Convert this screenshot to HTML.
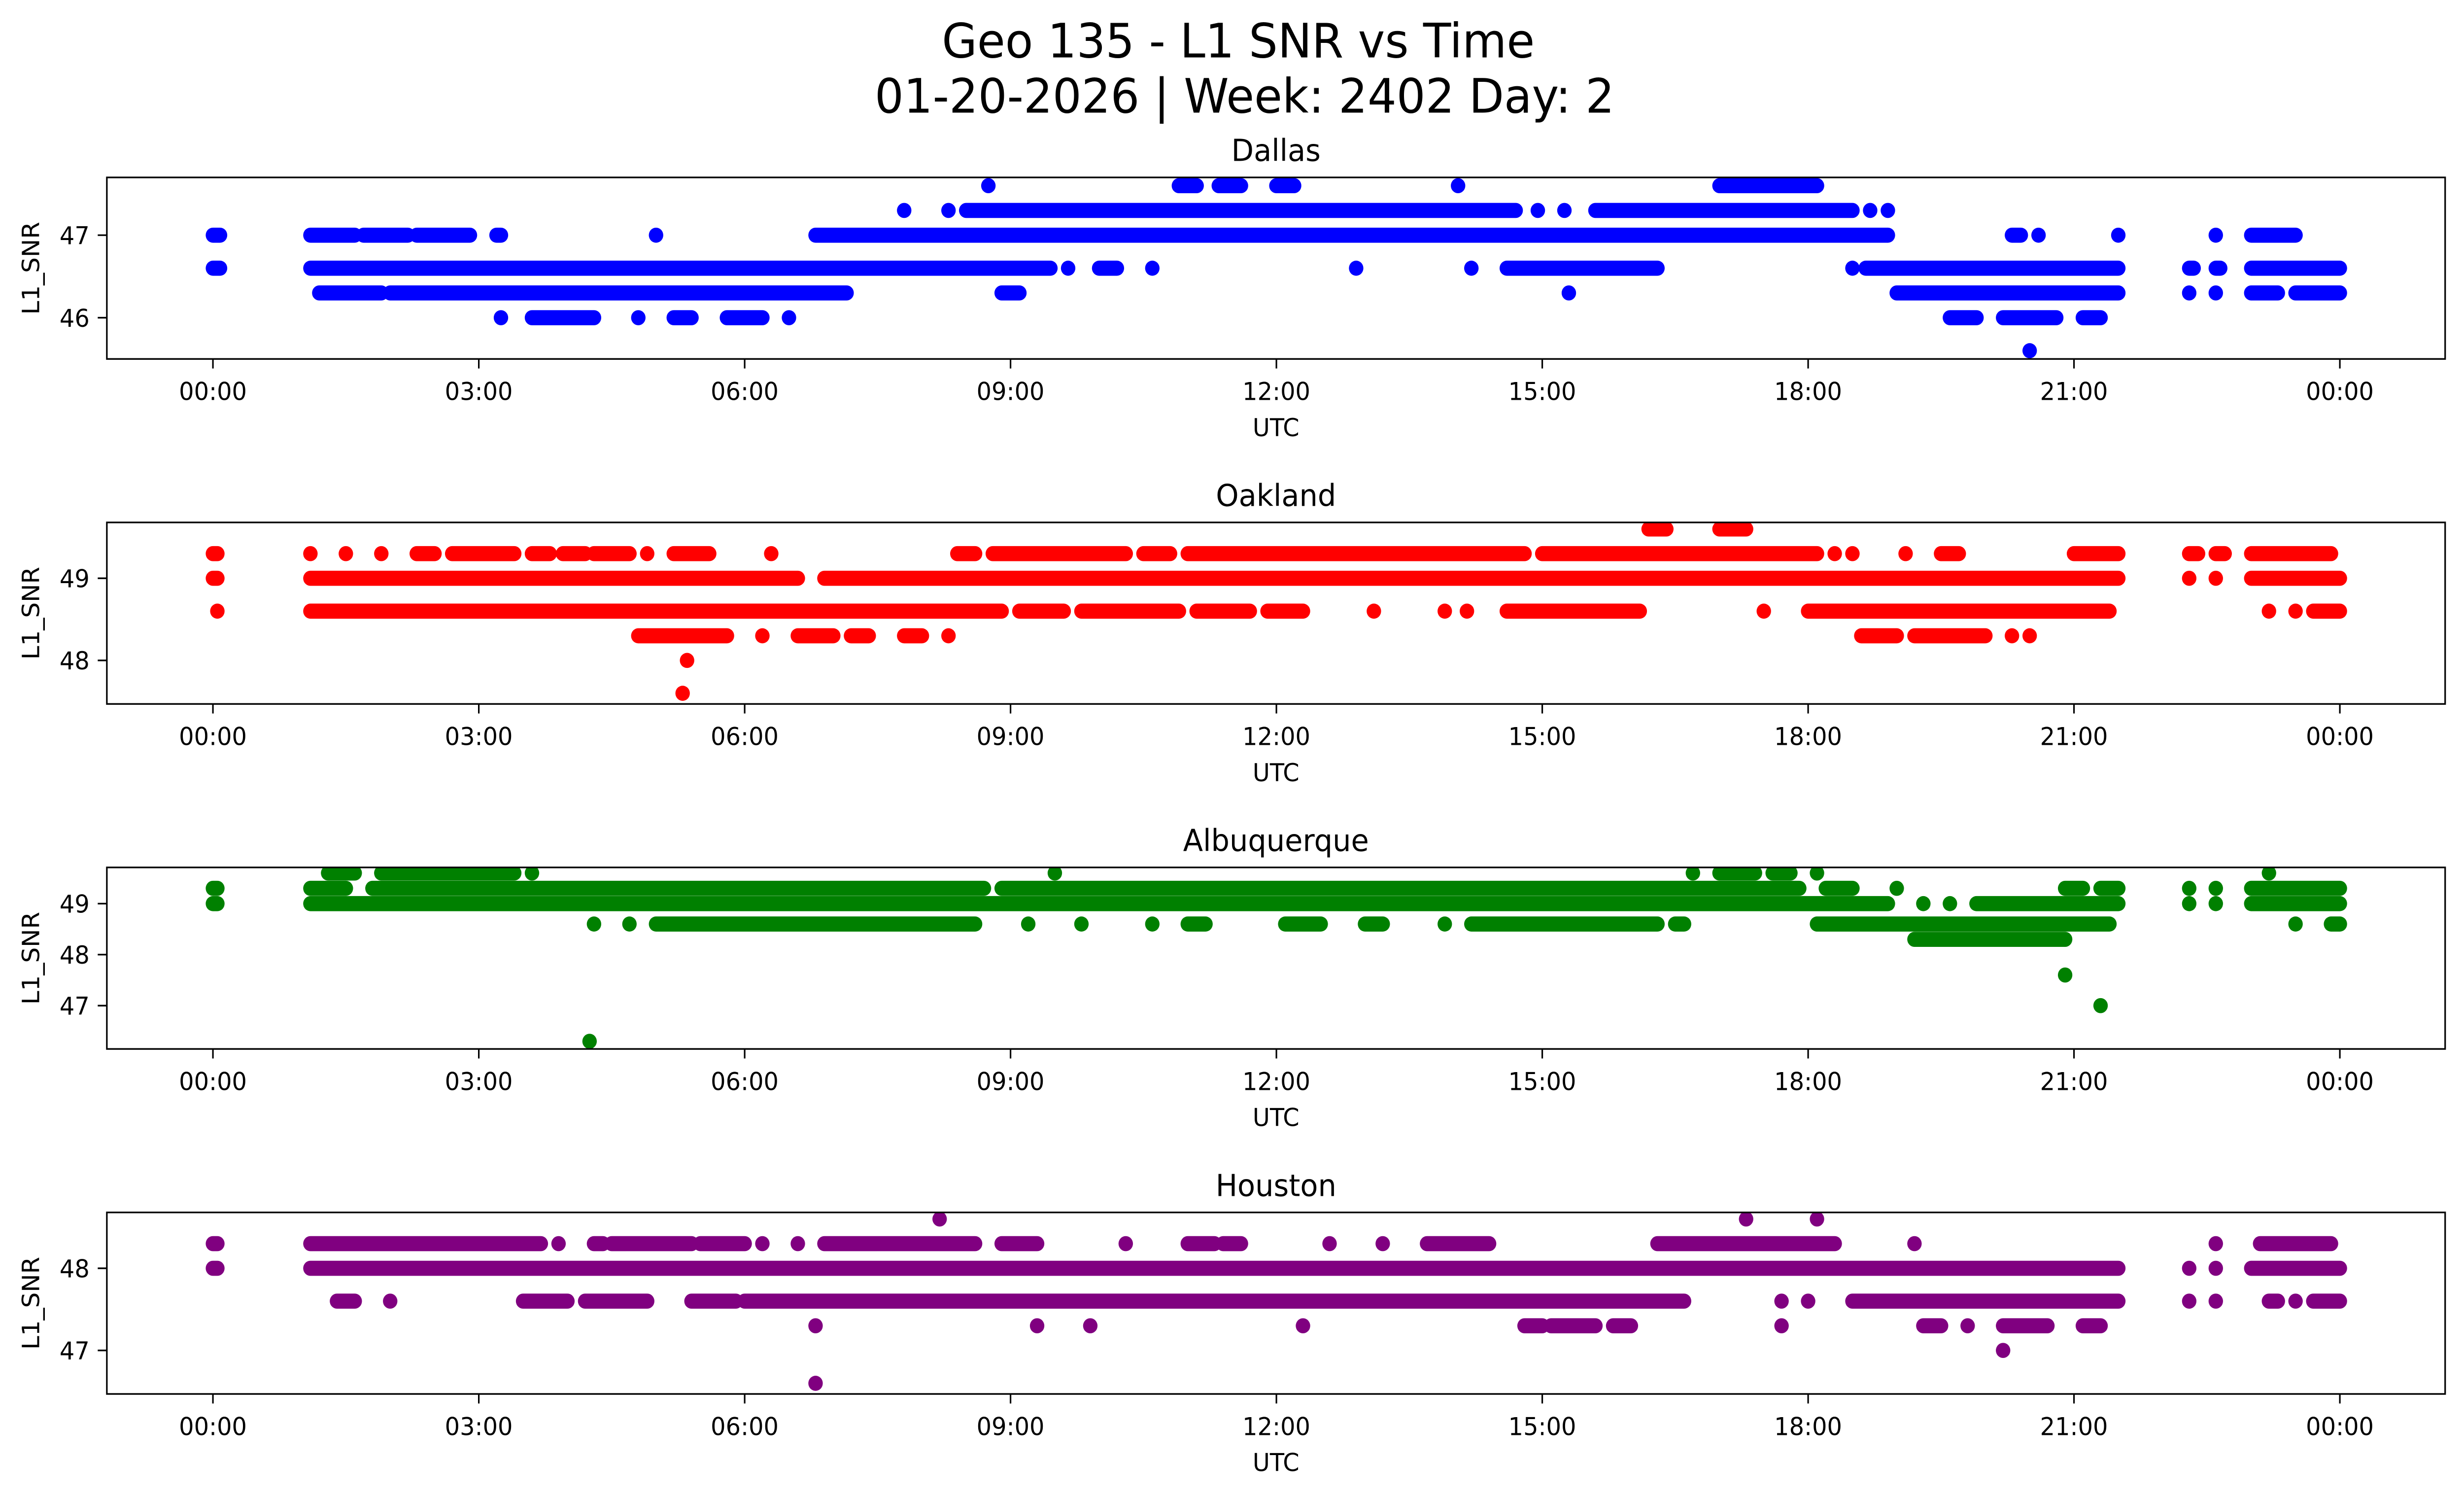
<!DOCTYPE html>
<html><head><meta charset="utf-8"><style>
html,body{margin:0;padding:0;background:#fff;overflow:hidden;width:100%;height:100%;}
svg{display:block;width:100vw;height:100vh;}
text{font-family:"DejaVu Sans","Liberation Sans",sans-serif;fill:#000;}
</style></head><body>
<svg id="fig" viewBox="0 0 1568 910" preserveAspectRatio="none">
<text x="788" y="35" font-size="29" text-anchor="middle">Geo 135 - L1 SNR vs Time</text>
<text x="792" y="68.5" font-size="29" text-anchor="middle">01-20-2026 | Week: 2402 Day: 2</text>
</svg>
<script>
// x ticks (hours)
const tickHours = [0,3,6,9,12,15,18,21,24];
const tickLabels = ["00:00","03:00","06:00","09:00","12:00","15:00","18:00","21:00","00:00"];
// panel meta
const panelNames = ["Dallas","Oakland","Albuquerque","Houston"];
const panelColors = ["#0000ff","#ff0000","#008000","#800080"];
const panelYMax = [47.70,49.68,49.71,48.68];
const panelYMin = [45.50,47.47,46.15,46.47];
const dallasYTicks = [46,47];
const oaklandYTicks = [48,49];
const albuquerqueYTicks = [47,48,49];
const houstonYTicks = [47,48];
// SNR levels and time runs [startHour,endHour] for each level
const dallasLevels = [47.6,47.3,47.0,46.6,46.3,46.0,45.6];
const dallasRuns = [
 [[8.75,8.75],[10.9,11.1],[11.35,11.6],[12.0,12.2],[14.05,14.05],[17.0,18.1]],
 [[7.8,7.8],[8.3,8.3],[8.5,14.7],[14.95,14.95],[15.25,15.25],[15.6,18.5],[18.7,18.7],[18.9,18.9]],
 [[0,0.08],[1.1,1.6],[1.7,2.2],[2.3,2.9],[3.2,3.25],[5.0,5.0],[6.8,18.9],[20.3,20.4],[20.6,20.6],[21.5,21.5],[22.6,22.6],[23.0,23.5]],
 [[0,0.08],[1.1,9.45],[9.65,9.65],[10.0,10.2],[10.6,10.6],[12.9,12.9],[14.2,14.2],[14.6,16.3],[18.5,18.5],[18.65,21.5],[22.3,22.35],[22.6,22.65],[23.0,24.0]],
 [[1.2,1.9],[2.0,7.15],[8.9,9.1],[15.3,15.3],[19.0,21.5],[22.3,22.3],[22.6,22.6],[23.0,23.3],[23.5,24.0]],
 [[3.25,3.25],[3.6,4.3],[4.8,4.8],[5.2,5.4],[5.8,6.2],[6.5,6.5],[19.6,19.9],[20.2,20.8],[21.1,21.3]],
 [[20.5,20.5]]
];
const oaklandLevels = [49.6,49.3,49.0,48.6,48.3,48.0,47.6];
const oaklandRuns = [
 [[16.2,16.4],[17.0,17.3]],
 [[0,0.05],[1.1,1.1],[1.5,1.5],[1.9,1.9],[2.3,2.5],[2.7,3.4],[3.6,3.8],[3.95,4.2],[4.3,4.7],[4.9,4.9],[5.2,5.6],[6.3,6.3],[8.4,8.6],[8.8,10.3],[10.5,10.8],[11.0,14.8],[15.0,18.1],[18.3,18.3],[18.5,18.5],[19.1,19.1],[19.5,19.7],[21.0,21.5],[22.3,22.4],[22.6,22.7],[23.0,23.9]],
 [[0,0.05],[1.1,6.6],[6.9,21.5],[22.3,22.3],[22.6,22.6],[23.0,24.0]],
 [[0.05,0.05],[1.1,8.9],[9.1,9.6],[9.8,10.9],[11.1,11.7],[11.9,12.3],[13.1,13.1],[13.9,13.9],[14.15,14.15],[14.6,16.1],[17.5,17.5],[18.0,21.4],[23.2,23.2],[23.5,23.5],[23.7,24.0]],
 [[4.8,5.8],[6.2,6.2],[6.6,7.0],[7.2,7.4],[7.8,8.0],[8.3,8.3],[18.6,19.0],[19.2,20.0],[20.3,20.3],[20.5,20.5]],
 [[5.35,5.35]],
 [[5.3,5.3]]
];
const albuquerqueLevels = [49.6,49.3,49.0,48.6,48.3,47.6,47.0,46.3];
const albuquerqueRuns = [
 [[1.3,1.6],[1.9,3.4],[3.6,3.6],[9.5,9.5],[16.7,16.7],[17.0,17.4],[17.6,17.8],[18.1,18.1],[23.2,23.2]],
 [[0,0.05],[1.1,1.5],[1.8,8.7],[8.9,17.9],[18.2,18.5],[19.0,19.0],[20.9,21.1],[21.3,21.5],[22.3,22.3],[22.6,22.6],[23.0,24.0]],
 [[0,0.05],[1.1,18.9],[19.3,19.3],[19.6,19.6],[19.9,21.5],[22.3,22.3],[22.6,22.6],[23.0,24.0]],
 [[4.3,4.3],[4.7,4.7],[5.0,8.6],[9.2,9.2],[9.8,9.8],[10.6,10.6],[11.0,11.2],[12.1,12.5],[13.0,13.2],[13.9,13.9],[14.2,16.3],[16.5,16.6],[18.1,21.4],[23.5,23.5],[23.9,24.0]],
 [[19.2,20.9]],
 [[20.9,20.9]],
 [[21.3,21.3]],
 [[4.25,4.25]]
];
const houstonLevels = [48.6,48.3,48.0,47.6,47.3,47.0,46.6];
const houstonRuns = [
 [[8.2,8.2],[17.3,17.3],[18.1,18.1]],
 [[0,0.05],[1.1,3.7],[3.9,3.9],[4.3,4.4],[4.5,5.4],[5.5,6.0],[6.2,6.2],[6.6,6.6],[6.9,8.6],[8.9,9.3],[10.3,10.3],[11.0,11.3],[11.4,11.6],[12.6,12.6],[13.2,13.2],[13.7,14.4],[16.3,18.3],[19.2,19.2],[22.6,22.6],[23.1,23.9]],
 [[0,0.05],[1.1,21.5],[22.3,22.3],[22.6,22.6],[23.0,24.0]],
 [[1.4,1.6],[2.0,2.0],[3.5,4.0],[4.2,4.9],[5.4,5.9],[6.0,16.6],[17.7,17.7],[18.0,18.0],[18.5,21.5],[22.3,22.3],[22.6,22.6],[23.2,23.3],[23.5,23.5],[23.7,24.0]],
 [[6.8,6.8],[9.3,9.3],[9.9,9.9],[12.3,12.3],[14.8,15.0],[15.1,15.6],[15.8,16.0],[17.7,17.7],[19.3,19.5],[19.8,19.8],[20.2,20.7],[21.1,21.3]],
 [[20.2,20.2]],
 [[6.8,6.8]]
];
const allLevels = [dallasLevels,oaklandLevels,albuquerqueLevels,houstonLevels];
const allRuns = [dallasRuns,oaklandRuns,albuquerqueRuns,houstonRuns];
const allYTicks = [dallasYTicks,oaklandYTicks,albuquerqueYTicks,houstonYTicks];

const NS = "http://www.w3.org/2000/svg";
const fig = document.getElementById("fig");
const AX_L = 68, AX_R = 1556, AX_H = 110.5, R = 4.6;
const X0 = 135.5, X24 = 1489;
function xOf(h){ return X0 + (X24 - X0) * h / 24; }
function mk(tag, attrs, parent){
  const e = document.createElementNS(NS, tag);
  for (const k in attrs) e.setAttribute(k, attrs[k]);
  parent.appendChild(e);
  return e;
}
for (let p = 0; p < 4; p++) {
  const top = 108 + 210 * p, bot = top + AX_H;
  const yOf = v => top + (panelYMax[p] - v) / (panelYMax[p] - panelYMin[p]) * AX_H;
  const g = mk("g", {}, fig);
  
  
  const clipId = "clip" + p;
  const cp = mk("clipPath", {id: clipId}, g);
  mk("rect", {x: AX_L, y: top, width: AX_R - AX_L, height: AX_H}, cp);
  const marks = mk("g", {"clip-path": "url(#" + clipId + ")", fill: panelColors[p]}, g);
  
  
  const lv = allLevels[p], runs = allRuns[p];
  for (let i = 0; i < lv.length; i++) {
    const y = yOf(lv[i]);
    for (const r of runs[i]) {
      const x1 = xOf(r[0]) - R, x2 = xOf(r[1]) + R;
      const m = mk("rect", {x: x1, y: y - R, width: x2 - x1, height: 2 * R, rx: R, ry: R}, marks);
      
      
    }
  }
  const frame = mk("rect", {x: AX_L, y: top, width: AX_R - AX_L, height: AX_H, fill: "none", stroke: "#000", "stroke-width": 1}, g);
  
  
  const t = mk("text", {x: (AX_L + AX_R) / 2, y: top - 10, "font-size": 18.5, "text-anchor": "middle"}, g);
  t.textContent = panelNames[p];
  
  
  for (let i = 0; i < tickHours.length; i++) {
    const x = xOf(tickHours[i]);
    mk("line", {x1: x, y1: bot, x2: x, y2: bot + 5.8, stroke: "#000", "stroke-width": 1}, g);
    const tl = mk("text", {x: x, y: bot + 25, "font-size": 15, "text-anchor": "middle"}, g);
    tl.textContent = tickLabels[i];
    
    
  }
  for (const v of allYTicks[p]) {
    const y = yOf(v);
    mk("line", {x1: AX_L - 5.8, y1: y, x2: AX_L, y2: y, stroke: "#000", "stroke-width": 1}, g);
    const yl = mk("text", {x: AX_L - 11, y: y + 5.5, "font-size": 15, "text-anchor": "end"}, g);
    yl.textContent = String(v);
    
    
  }
  const xl = mk("text", {x: (AX_L + AX_R) / 2, y: bot + 47, "font-size": 15, "text-anchor": "middle"}, g);
  xl.textContent = "UTC";
  
  
  const cy = top + AX_H / 2;
  const yt = mk("text", {x: 25, y: cy, "font-size": 15, "text-anchor": "middle", transform: "rotate(-90 25 " + cy + ")"}, g);
  yt.textContent = "L1_SNR";
  
  
}
</script>
</body></html>
